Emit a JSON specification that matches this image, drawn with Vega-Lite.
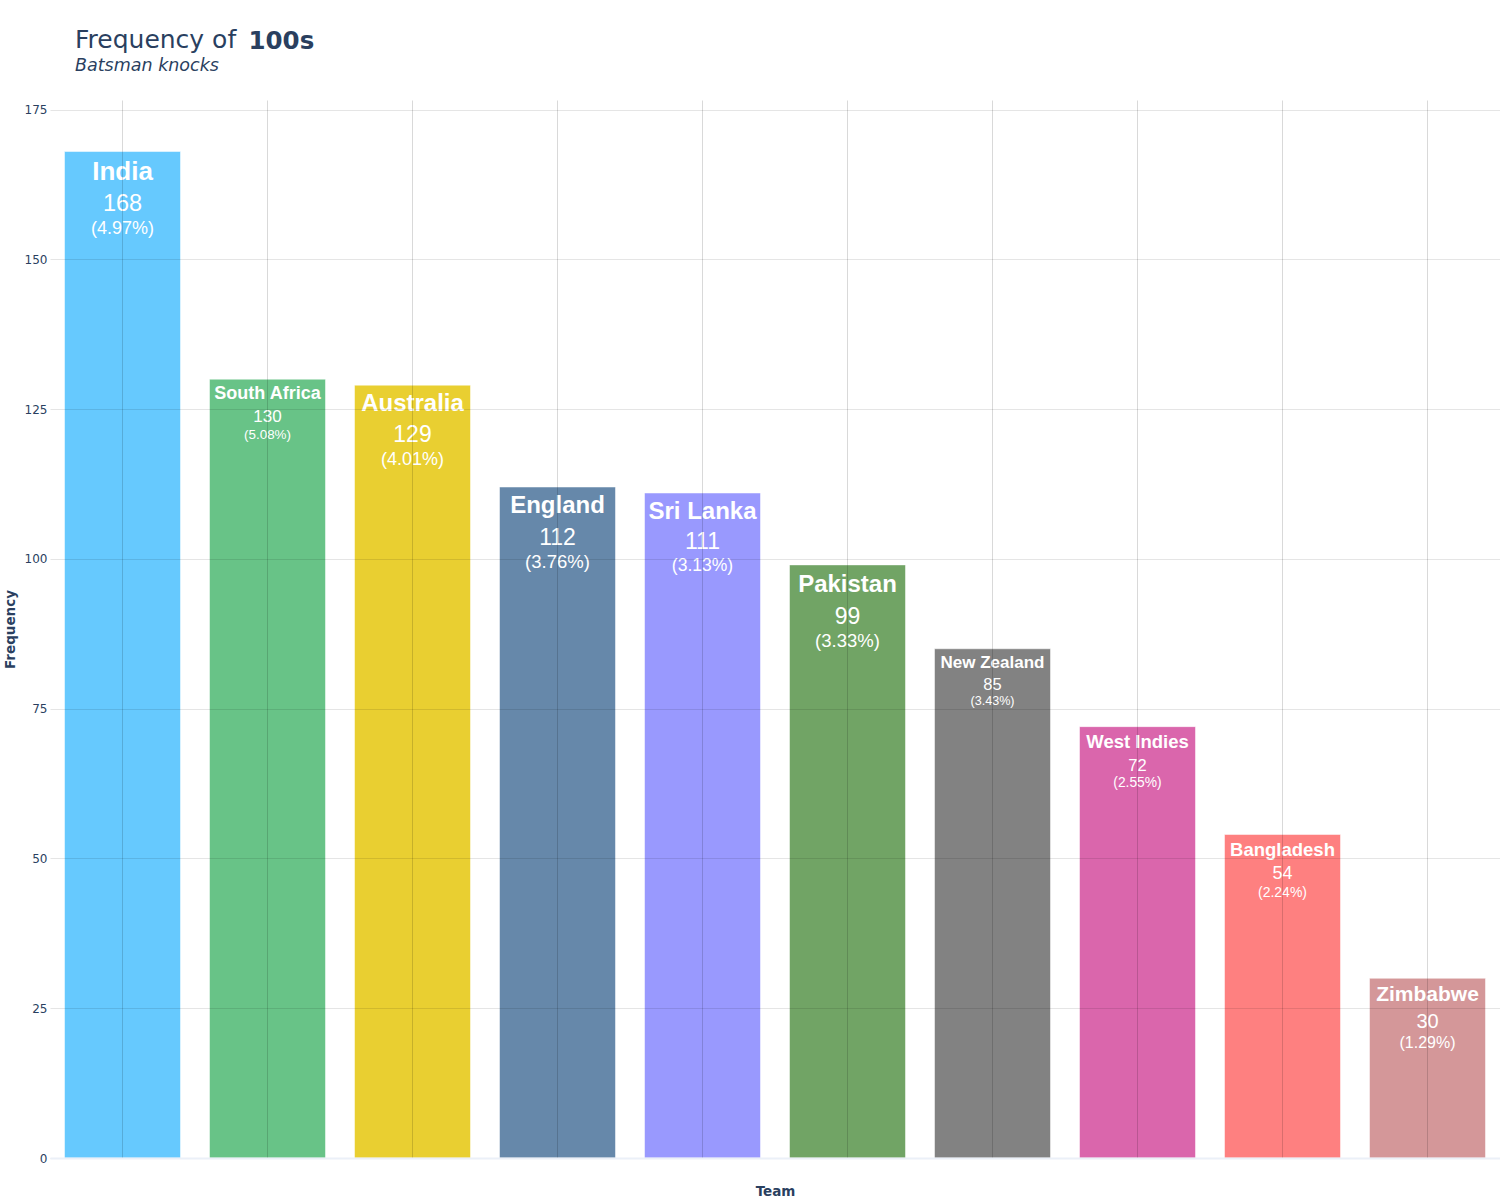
{
  "$schema": "https://vega.github.io/schema/vega-lite/v6.json",
  "description": "Frequency of 100s by team, batsman knocks.",
  "autosize": "none",
  "padding": {"left": 50, "top": 100, "right": 0, "bottom": 42},
  "width": 1450,
  "height": 1058,
  "background": "white",
  "title": {
    "text": "Frequency of",
    "subtitle": "Batsman knocks",
    "anchor": "start",
    "frame": "group",
    "dx": 25,
    "dy": 70,
    "offset": 24,
    "font": "DejaVu Sans",
    "fontSize": 25,
    "fontWeight": "normal",
    "color": "#2a3f5f",
    "subtitleFont": "DejaVu Sans",
    "subtitleFontSize": 17.5,
    "subtitleFontStyle": "italic",
    "subtitleColor": "#2a3f5f",
    "subtitlePadding": 4
  },
  "data": {
    "values": [
      {"team": "India", "count": 168, "pct": 4.97},
      {"team": "South Africa", "count": 130, "pct": 5.08},
      {"team": "Australia", "count": 129, "pct": 4.01},
      {"team": "England", "count": 112, "pct": 3.76},
      {"team": "Sri Lanka", "count": 111, "pct": 3.13},
      {"team": "Pakistan", "count": 99, "pct": 3.33},
      {"team": "New Zealand", "count": 85, "pct": 3.43},
      {"team": "West Indies", "count": 72, "pct": 2.55},
      {"team": "Bangladesh", "count": 54, "pct": 2.24},
      {"team": "Zimbabwe", "count": 30, "pct": 1.29}
    ]
  },
  "transform": [
    {"calculate": "'(' + format(datum.pct, '.2f') + '%)'", "as": "pct_label"}
  ],
  "encoding": {
    "y": {
      "field": "count",
      "type": "quantitative",
      "scale": {"domain": [0, 176.6], "nice": false},
      "axis": {
        "title": "Frequency",
        "values": [0, 25, 50, 75, 100, 125, 150, 175],
        "labelFont": "DejaVu Sans",
        "labelFontSize": 12,
        "labelColor": "#2a3f5f",
        "labelPadding": 3,
        "ticks": false,
        "domain": false,
        "grid": true,
        "gridColor": "#000000",
        "gridOpacity": 0.1,
        "zindex": 1,
        "titleFont": "DejaVu Sans",
        "titleFontSize": 13.5,
        "titleFontWeight": "bold",
        "titleColor": "#2a3f5f",
        "titlePadding": 7
      }
    }
  },
  "resolve": {"scale": {"size": "independent"}},
  "layer": [
    {
      "mark": {"type": "bar", "stroke": "#ffffff", "strokeOpacity": 0.5, "strokeWidth": 1},
      "encoding": {
        "x": {
          "field": "team",
          "type": "nominal",
          "sort": null,
          "scale": {"paddingInner": 0.2, "paddingOuter": 0.1},
          "axis": {
            "orient": "bottom",
            "title": "Team",
            "labels": false,
            "ticks": false,
            "domain": true,
            "domainColor": "#ebf0f8",
            "domainWidth": 2,
            "grid": true,
            "gridColor": "#000000",
            "gridOpacity": 0.15,
            "bandPosition": 0.5,
            "zindex": 1,
            "titleFont": "DejaVu Sans",
            "titleFontSize": 13.5,
            "titleFontWeight": "bold",
            "titleColor": "#2a3f5f",
            "titlePadding": 26
          }
        },
        "color": {
          "field": "team",
          "type": "nominal",
          "legend": null,
          "scale": {
            "domain": ["India", "South Africa", "Australia", "England", "Sri Lanka", "Pakistan", "New Zealand", "West Indies", "Bangladesh", "Zimbabwe"],
            "range": ["#66c9fe", "#68c387", "#e9cf31", "#6688aa", "#9999fe", "#71a465", "#828282", "#da66ac", "#fe8080", "#d49799"]
          }
        }
      }
    },
    {
      "mark": {
        "type": "text",
        "baseline": "middle",
        "align": "center",
        "font": "Liberation Sans",
        "fontWeight": "bold",
        "color": "white",
        "dy": {"expr": "[20, 15, 19, 19, 19, 20, 14, 15, 16, 17][indexof(['India', 'South Africa', 'Australia', 'England', 'Sri Lanka', 'Pakistan', 'New Zealand', 'West Indies', 'Bangladesh', 'Zimbabwe'], datum.team)]"}
      },
      "encoding": {
        "x": {
          "field": "team",
          "type": "nominal",
          "sort": null,
          "axis": {
            "orient": "top",
            "title": "100s",
            "labels": false,
            "ticks": false,
            "domain": false,
            "grid": false,
            "titleX": 198,
            "titleY": -52,
            "titleAlign": "left",
            "titleAnchor": "start",
            "titleBaseline": "alphabetic",
            "titleFont": "DejaVu Sans",
            "titleFontSize": 24.5,
            "titleFontWeight": "bold",
            "titleColor": "#2a3f5f"
          }
        },
        "text": {"field": "team", "type": "nominal"},
        "size": {
          "field": "team",
          "type": "nominal",
          "legend": null,
          "scale": {
            "type": "ordinal",
            "domain": ["India", "South Africa", "Australia", "England", "Sri Lanka", "Pakistan", "New Zealand", "West Indies", "Bangladesh", "Zimbabwe"],
            "range": [26, 18, 24, 24, 24, 24, 17, 18.5, 18.5, 21]
          }
        }
      }
    },
    {
      "mark": {
        "type": "text",
        "baseline": "middle",
        "align": "center",
        "font": "Liberation Sans",
        "color": "white",
        "dy": {"expr": "[52, 38, 50, 51, 49, 52, 36, 39, 40, 44][indexof(['India', 'South Africa', 'Australia', 'England', 'Sri Lanka', 'Pakistan', 'New Zealand', 'West Indies', 'Bangladesh', 'Zimbabwe'], datum.team)]"}
      },
      "encoding": {
        "x": {"field": "team", "type": "nominal", "sort": null, "axis": null},
        "text": {"field": "count", "type": "quantitative"},
        "size": {
          "field": "team",
          "type": "nominal",
          "legend": null,
          "scale": {
            "type": "ordinal",
            "domain": ["India", "South Africa", "Australia", "England", "Sri Lanka", "Pakistan", "New Zealand", "West Indies", "Bangladesh", "Zimbabwe"],
            "range": [23.5, 17, 23, 23, 23, 23, 16.5, 16.5, 18, 20]
          }
        }
      }
    },
    {
      "mark": {
        "type": "text",
        "baseline": "middle",
        "align": "center",
        "font": "Liberation Sans",
        "color": "white",
        "dy": {"expr": "[77, 56, 75, 75, 73, 76, 52, 56, 59, 65][indexof(['India', 'South Africa', 'Australia', 'England', 'Sri Lanka', 'Pakistan', 'New Zealand', 'West Indies', 'Bangladesh', 'Zimbabwe'], datum.team)]"}
      },
      "encoding": {
        "x": {"field": "team", "type": "nominal", "sort": null, "axis": null},
        "text": {"field": "pct_label"},
        "size": {
          "field": "team",
          "type": "nominal",
          "legend": null,
          "scale": {
            "type": "ordinal",
            "domain": ["India", "South Africa", "Australia", "England", "Sri Lanka", "Pakistan", "New Zealand", "West Indies", "Bangladesh", "Zimbabwe"],
            "range": [18, 13.4, 18, 18.5, 17.5, 18.5, 12.6, 13.8, 14, 16]
          }
        }
      }
    }
  ],
  "config": {
    "view": {"stroke": null}
  }
}
